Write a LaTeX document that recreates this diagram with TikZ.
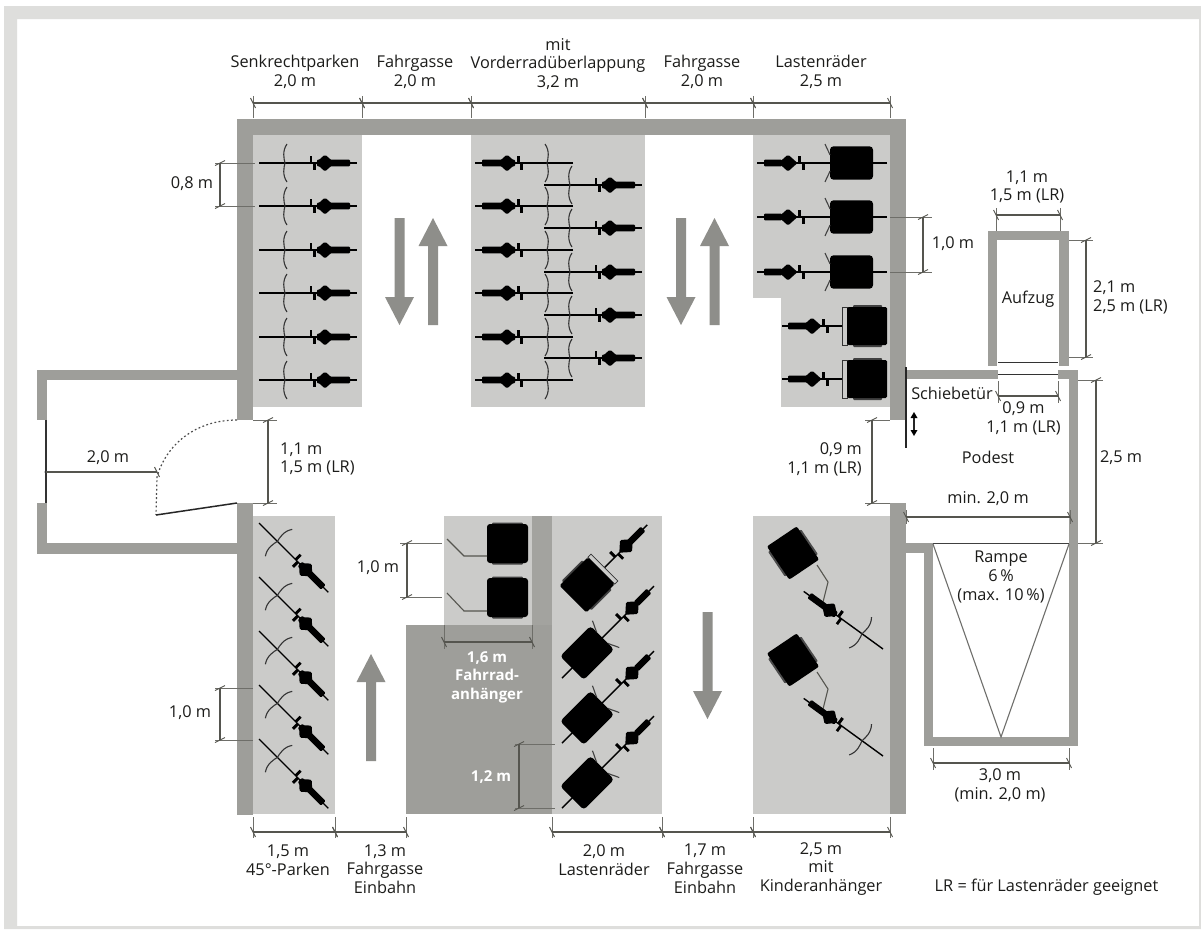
\documentclass[tikz,border=0pt]{standalone}
\usepackage{fontspec}
\setmainfont{Open Sans}
\definecolor{framec}{HTML}{DEDEDC}
\definecolor{zonec}{HTML}{CBCBC9}
\definecolor{wallc}{HTML}{9E9E9A}
\definecolor{arrc}{HTML}{8E8E8A}
\definecolor{dimc}{HTML}{55554F}
\definecolor{txtc}{HTML}{1C1C1A}
\tikzset{
  lbl/.style={font=\fontsize{16.3}{18.8}\selectfont, inner sep=0pt, text=txtc, align=center},
  wlbl/.style={font=\fontsize{15}{18.6}\selectfont\bfseries, inner sep=0pt, text=white, align=center},
  wall/.style={fill=wallc},
  zone/.style={fill=zonec},
  blockarrow/.style={fill=arrc},
  diml/.style={draw=dimc, line width=1.1pt},
  extl/.style={draw=dimc!85, line width=0.9pt},
  tickl/.style={draw=dimc, line width=0.9pt},
  hitch/.style={draw=dimc, line width=1.1pt},
  rad/.pic={
    \draw[black, line width=1.4pt] (0,0)--(98,0);
    \draw[black!80, line width=1.1pt] (28,-19) .. controls (23,-12) and (25,-4) .. (26,0) .. controls (25,4) and (23,12) .. (28,19);
    \fill[black, rounded corners=1pt] (58,-3.3) rectangle (91,3.3);
    \fill[black, rounded corners=1.5pt] (56.5,0)--(66,-8.5)--(75.5,0)--(66,8.5)--cycle;
    \fill[black] (50.5,-7) rectangle (53.3,0);
    \fill[black] (53.5,0) rectangle (56.5,7);
  },
  lastrad/.pic={
    \draw[black, line width=1.4pt] (0,0)--(130,0);
    \fill[black, rounded corners=3.5pt] (14,-16.7) rectangle (57,16.7);
    \draw[black!75, line width=1.1pt] (62,-19) .. controls (60,-14) and (58,-11) .. (57,-8);
    \draw[black!75, line width=1.1pt] (62,19) .. controls (60,14) and (58,11) .. (57,8);
    \fill[black, rounded corners=1pt] (105,-3.3) rectangle (123,3.3);
    \fill[black, rounded corners=1.5pt] (89.5,0)--(99,-8.5)--(108.5,0)--(99,8.5)--cycle;
    \fill[black] (86,0) rectangle (88.8,7);
    \fill[black] (82,-7) rectangle (85,0);
  },
  anhbike/.pic={
    \draw[black, line width=1.4pt] (40,0)--(105,0);
    \draw[black!80, line width=0.8pt, fill=zonec] (40,-19) rectangle (44.5,19);
    \fill[black!75, rounded corners=1pt] (5,-21) rectangle (34,21);
    \fill[black, rounded corners=1.5pt] (0,-19) rectangle (40,19);
    \fill[black, rounded corners=1pt] (79,-3.3) rectangle (99,3.3);
    \fill[black, rounded corners=1.5pt] (65.5,0)--(75,-8.5)--(84.5,0)--(75,8.5)--cycle;
    \fill[black] (62.5,0) rectangle (65.3,7);
    \fill[black] (58,-7) rectangle (61,0);
  },
  anhbox/.pic={
    \fill[black!75, rounded corners=1pt] (5,-21) rectangle (36,21);
    \fill[black, rounded corners=3pt] (0,-19.5) rectangle (41,19.5);
  },
  kindbox/.pic={
    \fill[black!70, rounded corners=1pt] (-20,-15) rectangle (20,15);
    \fill[black, rounded corners=2pt] (-18,-20) rectangle (18,20);
  }
}
\newcommand\dimH[5]{%
  \draw[extl] (#1,#4)--(#1,#5);
  \draw[extl] (#2,#4)--(#2,#5);
  \draw[diml] (#1,#3)--(#2,#3);
  \draw[tickl] ({#1-2.5},{#3-5})--({#1+2.5},{#3+5});
  \draw[tickl] ({#2-2.5},{#3-5})--({#2+2.5},{#3+5});
}
\newcommand\dimV[5]{%
  \draw[extl] (#4,#1)--(#5,#1);
  \draw[extl] (#4,#2)--(#5,#2);
  \draw[diml] (#3,#1)--(#3,#2);
  \draw[tickl] ({#3-5},{#1+2.5})--({#3+5},{#1-2.5});
  \draw[tickl] ({#3-5},{#2+2.5})--({#3+5},{#2-2.5});
}
\newcommand\arrU[4]{\fill[blockarrow] ({#1-5},#2)--({#1+5},#2)--({#1+5},#3)--({#1+14.5},#3)--(#1,#4)--({#1-14.5},#3)--({#1-5},#3)--cycle;}
\begin{document}
\begin{tikzpicture}[x=1pt,y=-1pt]
\useasboundingbox (0,0) rectangle (1201,929);
\fill[white] (0,0) rectangle (1201,929);
% frame
\fill[framec, even odd rule] (4,6) rectangle (1201,929) (17,19) rectangle (1199,926);
% parking zones
\fill[zone] (253,135) rectangle (362,407);
\fill[zone] (471,135) rectangle (645,407);
\fill[zone] (753,135) rectangle (890,298);
\fill[zone] (781,298) rectangle (890,407);
\fill[zone] (253,516) rectangle (335,814);
\fill[zone] (444,516) rectangle (532,625);
\fill[zone] (552,516) rectangle (662,814);
\fill[zone] (753,516) rectangle (890,814);
\fill[wall] (406,625) rectangle (552,814);
\fill[wallc!95!white] (532,516) rectangle (552,625);
% walls
\fill[wall] (237,119) rectangle (906,135);
\fill[wall] (237,135) rectangle (253,420);
\fill[wall] (237,503) rectangle (253,815);
\fill[wall] (890,135) rectangle (906,420);
\fill[wall] (890,503) rectangle (906,814);
\fill[wall] (37,370) rectangle (237,380);
\fill[wall] (37,380) rectangle (47,420);
\fill[wall] (37,503) rectangle (47,554);
\fill[wall] (47,543) rectangle (237,554);
\fill[wall] (906,370) rectangle (998,379);
\fill[wall] (1058,370) rectangle (1078,379);
\fill[wall] (1069,379) rectangle (1078,746);
\fill[wall] (924,737) rectangle (1069,746);
\fill[wall] (924,543) rectangle (933,737);
\fill[wall] (906,543) rectangle (924,553);
\fill[wall] (988,231) rectangle (1069,240);
\fill[wall] (988,240) rectangle (997,366);
\fill[wall] (1059,240) rectangle (1069,366);
% doors
\draw[black!80, line width=1.2pt] (46,420)--(46,503);
\fill[black!80] (46,472) circle (1.6);
\draw[black!70, line width=1.2pt, dash pattern=on 1.8pt off 2.4pt] (237,420) .. controls (195,420) and (166,445) .. (157,477) -- (156,515);
\draw[black!85, line width=1.5pt] (156,515)--(237,503);
\draw[black!85, line width=1.2pt] (906,367)--(906,448);
\draw[black!80, line width=1.2pt] (998,362.5)--(1058,362.5);
\draw[black!80, line width=1.2pt] (998,374.5)--(1058,374.5);
\draw[black!85, line width=1.1pt] (914,415)--(914,433);
\fill[black] (914,412)--(917.5,418)--(910.5,418)--cycle;
\fill[black] (914,436)--(917.5,430)--(910.5,430)--cycle;
% ramp lines
\draw[black!75, line width=1pt] (933,543.5)--(1069,543.5);
\draw[wallc!70!black, line width=1.1pt] (933,544)--(1001,737)--(1069,544);
% block arrows
\arrU{399.5}{218}{297}{325}
\arrU{433}{325}{246}{218}
\arrU{681}{218}{297}{325}
\arrU{714.5}{325}{246}{218}
\arrU{371}{761}{682}{654}
\arrU{707.5}{612}{691}{719}
% senkrecht
\foreach \yy in {163,206,250,293,337,380}{\pic at (259,\yy) {rad};}
% vorderrad
\foreach \yy in {163,206,250,293,337,380}{\pic[rotate=180] at (573,\yy) {rad};}
\foreach \yy in {185,228,272,315,358}{\pic at (544,\yy) {rad};}
% lastenrad top
\foreach \yy in {163,217,272}{\pic[rotate=180] at (887,\yy) {lastrad};}
\foreach \yy in {326,379}{\pic[rotate=180] at (887,\yy) {anhbike};}
% 45 deg
\foreach \yy in {523,577,631,685,739}{\pic[rotate=-45] at (259,\yy) {rad};}
% anhaenger
\pic at (487,543.5) {anhbox};
\pic at (487,597.5) {anhbox};
\draw[hitch] (447,539)--(464,556)--(487,556);
\draw[hitch] (447,593)--(464,611)--(487,611);
% lastenrad 45
\pic[rotate=45] at (573,599) {anhbike};
\foreach \yy in {678,743,808}{\pic[rotate=45] at (562,\yy) {lastrad};}
% kinderanhaenger
\foreach \dy in {0,107}{
  \pic[rotate=34] at (793,{553+\dy}) {kindbox};
  \draw[hitch] (817,{565+\dy})--(828,{582+\dy})--(823,{602+\dy});
  \pic[rotate=144] at (883,{649+\dy}) {rad};
}
% dimensions
\dimH{253}{362}{103}{96}{118}
\dimH{362}{471}{103}{96}{118}
\dimH{471}{645}{103}{96}{118}
\dimH{645}{753}{103}{96}{118}
\dimH{753}{890}{103}{96}{118}
\dimH{253}{335}{832}{817}{838}
\dimH{335}{406}{832}{817}{838}
\dimH{552}{662}{832}{817}{838}
\dimH{662}{753}{832}{817}{838}
\dimH{753}{890}{832}{817}{838}
\dimH{933}{1069}{763}{748}{770}
\dimH{996}{1060}{215}{208}{231}
\dimH{998}{1058}{396}{381}{403}
\dimH{906}{1070}{517}{510}{524}
\dimH{444}{532}{642}{625}{649}
\dimV{163}{206}{220}{215}{255}
\dimV{688}{740}{220}{215}{253}
\dimV{217}{272}{923}{890}{932}
\dimV{240}{357}{1086}{1069}{1093}
\dimV{380}{543}{1096}{1078}{1103}
\dimV{420}{503}{268}{253}{277}
\dimV{420}{503}{872}{865}{890}
\dimV{543}{597}{407}{400}{442}
\dimV{744}{808}{519}{515}{555}
\draw[diml] (46,472)--(157,472);
\draw[tickl] (154.5,467)--(159.5,477);
% labels
\node[lbl] (t1) at (295,72) {Senkrechtparken\\2,0 m};
\node[lbl] (t2) at (415,72) {Fahrgasse\\2,0 m};
\node[lbl] (t3) at (558,64) {mit\\Vorderradüberlappung\\3,2 m};
\node[lbl] (t4) at (702,72) {Fahrgasse\\2,0 m};
\node[lbl] (t5) at (821,72) {Lastenräder\\2,5 m};
\node[lbl] (b1) at (288,860) {1,5 m\\45°-Parken};
\node[lbl] (b2) at (385,869) {1,3 m\\Fahrgasse\\Einbahn};
\node[lbl] (b3) at (604,860) {2,0 m\\Lastenräder};
\node[lbl] (b4) at (705,869) {1,7 m\\Fahrgasse\\Einbahn};
\node[lbl] (b5) at (821,869) {2,5 m\\mit\\Kinderanhänger};
\node[lbl] (lr) at (1046.5,887) {LR = für Lastenräder geeignet};
\node[lbl] (d08) at (192,184) {0,8 m};
\node[lbl] (d10a) at (190,713) {1,0 m};
\node[lbl] (d10b) at (953,244) {1,0 m};
\node[lbl] (d10c) at (378,568) {1,0 m};
\node[lbl] (d20) at (108,458) {2,0 m};
\node[lbl, align=left, anchor=west] (dl1) at (280,459) {1,1 m\\1,5 m (LR)};
\node[lbl, align=right, anchor=east] (dl2) at (862,459) {0,9 m\\1,1 m (LR)};
\node[lbl] (ea) at (1027,187) {1,1 m\\1,5 m (LR)};
\node[lbl, align=left, anchor=west] (eb) at (1093,297) {2,1 m\\2,5 m (LR)};
\node[lbl] (auf) at (1028,299) {Aufzug};
\node[lbl] (sch) at (952,393) {Schiebetür};
\node[lbl] (ec) at (1023.5,418) {0,9 m\\1,1 m (LR)};
\node[lbl] (pod) at (988,457) {Podest};
\node[lbl] (mi) at (988,499) {min. 2,0 m};
\node[lbl] (d25) at (1121,458) {2,5 m};
\node[lbl] (rmp) at (1001,577) {Rampe\\6\,\%\\(max. 10\,\%)};
\node[lbl] (d30) at (1000,785) {3,0 m\\(min. 2,0 m)};
\node[wlbl] (fa) at (487,677) {1,6 m\\Fahrrad-\\anhänger};
\node[wlbl] (d12) at (491,777) {1,2 m};
\end{tikzpicture}
\end{document}
